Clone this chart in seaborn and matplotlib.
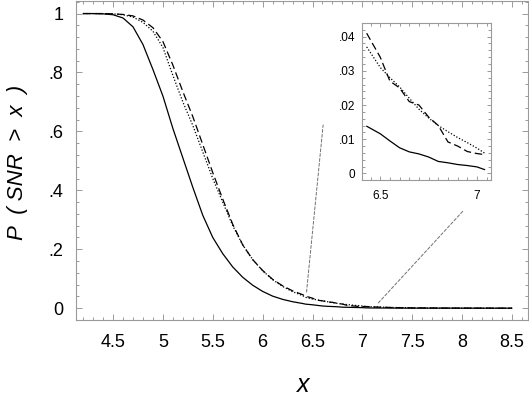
import numpy as np
import pandas as pd
import matplotlib
matplotlib.use("Agg")
from matplotlib import pyplot as plt
from matplotlib.patches import ConnectionPatch
from matplotlib.ticker import MultipleLocator, FuncFormatter
import seaborn as sns

# data
x = [4.2, 4.3, 4.4, 4.5, 4.6, 4.7, 4.8, 4.9, 5.0, 5.1, 5.2, 5.3, 5.4, 5.5, 5.6,
     5.7, 5.8, 5.9, 6.0, 6.1, 6.2, 6.3, 6.4, 6.43, 6.5, 6.55, 6.6, 6.65, 6.7,
     6.75, 6.8, 6.85, 6.9, 6.95, 7.0, 7.04, 7.1, 7.2, 7.3, 7.5, 7.75, 8.0, 8.25, 8.5]

solid = [1.0, 1.0, 0.999, 0.996, 0.985, 0.955, 0.895, 0.81, 0.72, 0.61, 0.51,
         0.41, 0.315, 0.24, 0.185, 0.14, 0.105, 0.078, 0.057, 0.041, 0.030,
         0.022, 0.016, 0.0138, 0.0116, 0.0095, 0.0075, 0.0063, 0.0057, 0.0048,
         0.0035, 0.0031, 0.0026, 0.0023, 0.0019, 0.0011, 0.0008, 0.0006, 0.0004,
         0.0002, 0.0001, 0.0001, 0.0, 0.0]

dotted = [1.0, 1.0, 1.0, 0.999, 0.996, 0.988, 0.97, 0.94, 0.885, 0.79, 0.70,
          0.62, 0.53, 0.44, 0.36, 0.28, 0.215, 0.165, 0.127, 0.097, 0.074,
          0.056, 0.043, 0.037, 0.031, 0.028, 0.0253, 0.022, 0.0188, 0.0162,
          0.0140, 0.0122, 0.0105, 0.0090, 0.0074, 0.0059, 0.0048, 0.0035, 0.0025,
          0.0012, 0.0006, 0.0003, 0.0001, 0.0]

dashed = [1.0, 1.0, 1.0, 0.999, 0.997, 0.992, 0.978, 0.952, 0.905, 0.825, 0.735,
          0.65, 0.555, 0.46, 0.37, 0.285, 0.215, 0.165, 0.128, 0.098, 0.076,
          0.059, 0.046, 0.041, 0.034, 0.027, 0.025, 0.021, 0.020, 0.0165,
          0.0140, 0.0092, 0.0080, 0.0064, 0.0058, 0.0055, 0.0045, 0.0032, 0.0022,
          0.001, 0.0005, 0.0002, 0.0001, 0.0]

df = pd.DataFrame({"x": x, "solid": solid, "dotted": dotted, "dashed": dashed})
zoom = df[(df["x"] >= 6.43) & (df["x"] <= 7.04)]

sns.set_style("ticks")
plt.rcParams["font.family"] = ["Liberation Sans", "DejaVu Sans"]
plt.rcParams["text.color"] = "black"
plt.rcParams["axes.labelcolor"] = "black"

grey = "#9a9a9a"
styles = {"solid": "-", "dotted": (0, (1, 1.5)), "dashed": (0, (6, 3))}


def no_lead_zero(v, pos):
    s = f"{v:g}"
    if s.startswith("0."):
        s = s[1:]
    return s


def style_axes(a, xmaj, xmin, ymaj, ymin, size, xpad, ypad, mlen, nlen):
    a.xaxis.set_major_locator(MultipleLocator(xmaj))
    a.xaxis.set_minor_locator(MultipleLocator(xmin))
    a.yaxis.set_major_locator(MultipleLocator(ymaj))
    a.yaxis.set_minor_locator(MultipleLocator(ymin))
    a.xaxis.set_major_formatter(FuncFormatter(no_lead_zero))
    a.yaxis.set_major_formatter(FuncFormatter(no_lead_zero))
    for sp in a.spines.values():
        sp.set_visible(True)
        sp.set_color(grey)
        sp.set_linewidth(0.8)
    a.tick_params(which="both", direction="in", top=True, right=True,
                  color=grey, width=0.7, labelsize=size, labelcolor="black")
    a.tick_params(which="major", length=mlen)
    a.tick_params(which="minor", length=nlen)
    a.tick_params(axis="x", pad=xpad)
    a.tick_params(axis="y", pad=ypad)


fig = plt.figure(figsize=(5.29, 3.97), dpi=100)
ax = fig.add_axes([0.143, 0.194, 0.855, 0.803])

for name in ["solid", "dotted", "dashed"]:
    sns.lineplot(data=df, x="x", y=name, ax=ax, color="black", lw=0.9,
                 linestyle=styles[name])

ax.set_xlim(4.125, 8.66)
ax.set_ylim(-0.04, 1.042)
style_axes(ax, 0.5, 0.1, 0.2, 0.04, 13, 10, 9, 4, 2.5)
ax.set_xlabel("x", fontsize=18, style="italic")
ax.set_ylabel("P  ( SNR  >  x  )", fontsize=16, style="italic")
ax.xaxis.set_label_coords(0.503, -0.165)
ax.yaxis.set_label_coords(-0.105, 0.495)

# inset zoom
ax_in = fig.add_axes([0.684, 0.546, 0.244, 0.397])
for name in ["solid", "dotted", "dashed"]:
    sns.lineplot(data=zoom, x="x", y=name, ax=ax_in, color="black", lw=0.9,
                 linestyle=styles[name])
ax_in.set_xlim(6.405, 7.072)
ax_in.set_ylim(-0.002, 0.0441)
style_axes(ax_in, 0.5, 0.05, 0.01, 0.002, 8.5, 7, 5, 3, 2)
ax_in.set_xlabel("")
ax_in.set_ylabel("")

for xa, xb in [((6.44, 0.055), (-0.30, 0.35)), ((7.16, 0.018), (0.79, -0.19))]:
    con = ConnectionPatch(xyA=xa, coordsA=ax.transData, xyB=xb,
                          coordsB=ax_in.transAxes, color="#707070", lw=0.7,
                          linestyle=(0, (3, 2)))
    fig.add_artist(con)

fig.savefig("out.png", dpi=100)
